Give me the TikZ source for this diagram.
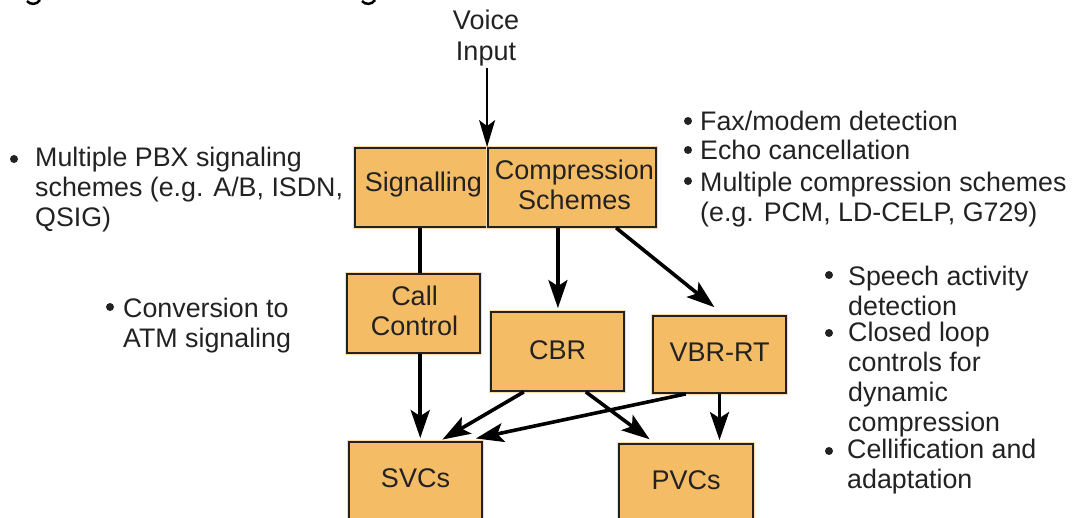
\documentclass[tikz,border=0pt]{standalone}
\usepackage{fontspec}
\setmainfont{Liberation Sans}
\usetikzlibrary{arrows.meta,calc}
\definecolor{boxfill}{HTML}{F5BC66}
\definecolor{boxglow}{HTML}{FBDCA8}
\definecolor{ink}{HTML}{222222}
\tikzset{
  x=1pt,y=-1pt,
  procbox/.style={rectangle,draw=ink,line width=1.8pt,fill=boxfill,inner sep=0pt,
    preaction={draw=boxglow,line width=3.6pt}},
  boxtext/.style={align=center,text=ink,inner sep=0pt,yshift=2.5pt,
    font=\fontsize{27}{29.5}\selectfont},
  listtext/.style={anchor=west,inner sep=0pt,align=left,text=ink,
    font=\fontsize{26.8}{30}\selectfont},
  bulletdot/.style={circle,fill=ink,inner sep=0pt,minimum size=8pt},
  flow/.style={draw=black,line width=3.6pt,-{Stealth[length=28pt,width=19pt,inset=6pt]},shorten >=3pt},
  thinflow/.style={draw=black,line width=2pt,-{Stealth[length=27pt,width=16pt,inset=6pt]}},
  plainlink/.style={draw=black,line width=3.6pt},
}
\begin{document}
\begin{tikzpicture}
\useasboundingbox (0,0) rectangle (1075,518);
\clip (0,0) rectangle (1075,518);
% clipped remnants of the heading
\draw[line width=2.5pt,black] (27,1) .. controls (30,5) and (37,5) .. (40,0);
\draw[line width=2.5pt,black] (362,1) .. controls (365,5) and (372,5) .. (375,0);

\node[procbox,minimum width=133pt,minimum height=79pt,label={[boxtext,xshift=2pt]center:Signalling}] (sig) at (421.5,187.5) {};
\node[procbox,minimum width=168pt,minimum height=79pt,label={[boxtext,xshift=2.5pt]center:Compression\\Schemes}] (comp) at (572,187.5) {};
\node[procbox,minimum width=133pt,minimum height=79pt,label={[boxtext,xshift=1pt]center:Call\\Control}] (call) at (413.5,313.5) {};
\node[procbox,minimum width=133pt,minimum height=79pt,label={[boxtext,yshift=-1.5pt]center:CBR}] (cbr) at (557.5,351.5) {};
\node[procbox,minimum width=133pt,minimum height=77pt,label={[boxtext]center:VBR-RT}] (vbr) at (719.5,354.5) {};
\node[procbox,minimum width=133pt,minimum height=77pt,label={[boxtext]center:SVCs}] (svc) at (415.5,480.5) {};
\node[procbox,minimum width=134pt,minimum height=78pt,label={[boxtext]center:PVCs}] (pvc) at (686,483) {};

\node[boxtext,yshift=0pt,font=\fontsize{27}{31}\selectfont] (voice) at (486,41) {Voice\\Input};

\draw[thinflow] ([yshift=-1pt]voice.south -| comp.north west) -- (comp.north west);
\draw[plainlink] (sig.south) ++(-1.5,0) coordinate (sigout) -- (sigout |- call.north);
\coordinate (compdown) at ($(comp.south west)!0.417!(comp.south east)$);
\draw[flow] (compdown) -- (compdown |- cbr.north);
\draw[flow] ($(comp.south west)!0.76!(comp.south east)$) -- ($(vbr.north west)!0.48!(vbr.north east)+(0,-6)$);
\coordinate (calldown) at ($(call.south west)!0.55!(call.south east)$);
\draw[flow] (calldown) -- (calldown |- svc.north);
\draw[flow] ($(cbr.south west)!0.25!(cbr.south east)$) -- ($(svc.north west)!0.68!(svc.north east)$);
\draw[flow] ($(cbr.south west)!0.71!(cbr.south east)$) -- ($(pvc.north west)!0.25!(pvc.north east)+(0,-2)$);
\draw[flow] ($(vbr.south west)!0.25!(vbr.south east)$) -- ($(svc.north east)+(-10,-2)$);
\coordinate (vbrdown) at ($(vbr.south west)!0.5!(vbr.south east)$);
\draw[flow] (vbrdown) -- (vbrdown |- pvc.north);

% left list
\node[bulletdot] (b1) at (14,159) {};
\node[listtext] (t1) at (35,189.5) {Multiple PBX signaling\\schemes (e.g. A/B, ISDN,\\QSIG)};
\node[bulletdot] (b2) at (110,307) {};
\node[listtext] (t2) at (123,325.5) {Conversion to\\ATM signaling};
% upper right list
\node[bulletdot] (b3) at (688,121) {};
\node[listtext] (t3) at (700,121) {Fax/modem detection};
\node[bulletdot] (b4) at (688,150) {};
\node[listtext] (t4) at (700,150) {Echo cancellation};
\node[bulletdot] (b5) at (688,181) {};
\node[listtext] (t5) at (700,199.5) {Multiple compression schemes\\(e.g. PCM, LD-CELP, G729)};
% lower right list
\node[bulletdot] (b6) at (829,275) {};
\node[listtext] (t6) at (848,291) {Speech activity\\detection};
\node[bulletdot] (b7) at (829,333) {};
\node[listtext] (t7) at (848,379.5) {Closed loop\\controls for\\dynamic\\compression};
\node[bulletdot] (b8) at (829,451) {};
\node[listtext] (t8) at (847,467) {Cellification and\\adaptation};
\end{tikzpicture}
\end{document}
